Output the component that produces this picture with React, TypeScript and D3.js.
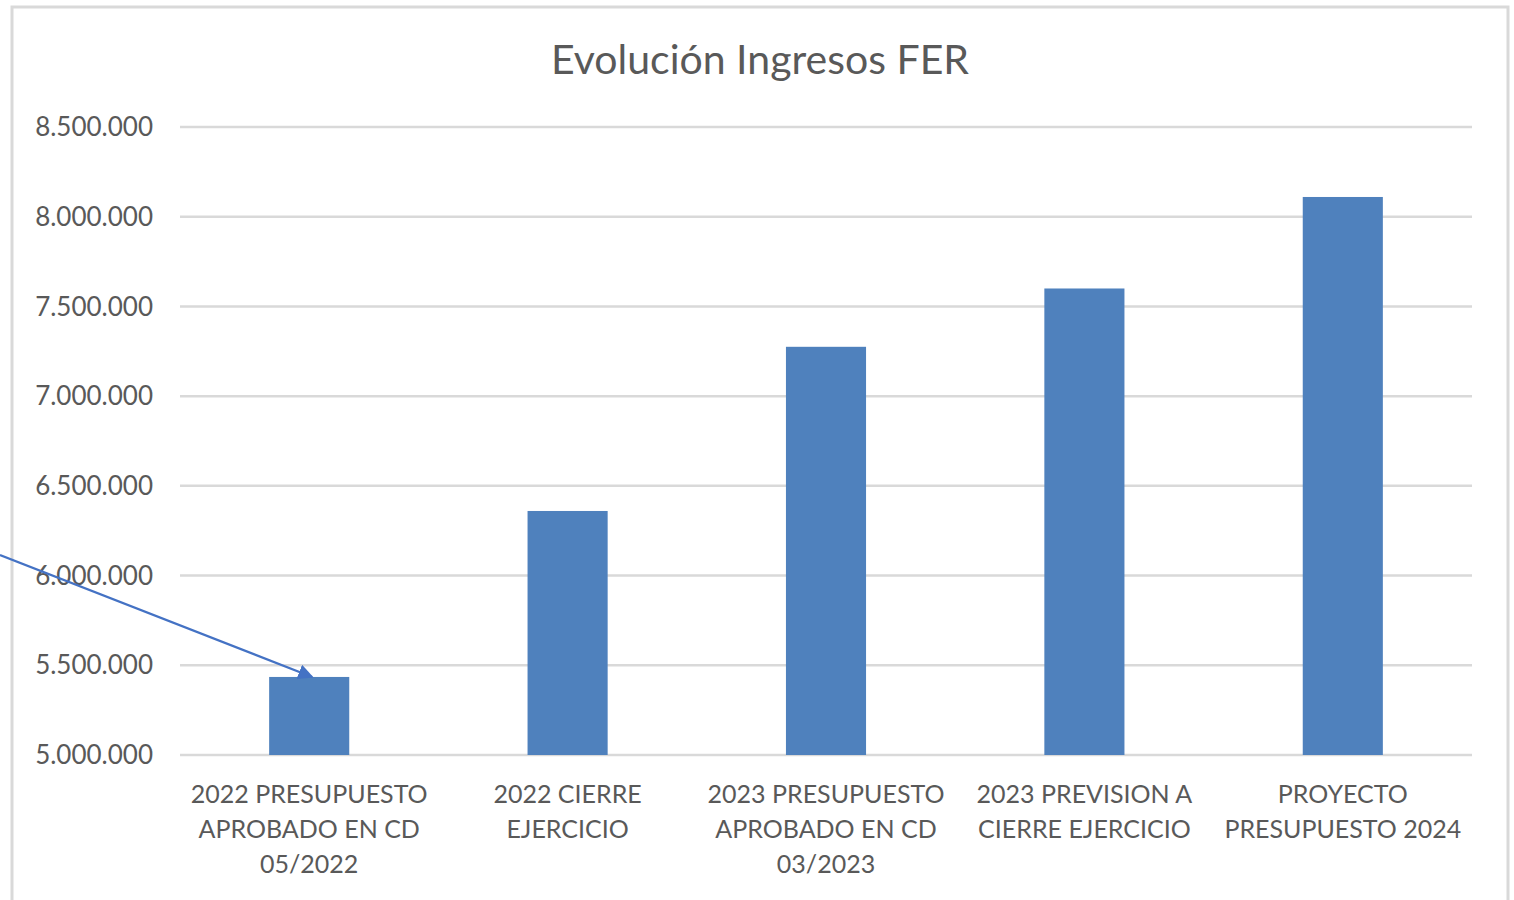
import * as d3 from 'd3'

const categories = [
  ['2022 PRESUPUESTO', 'APROBADO EN CD', '05/2022'],
  ['2022 CIERRE', 'EJERCICIO'],
  ['2023 PRESUPUESTO', 'APROBADO EN CD', '03/2023'],
  ['2023 PREVISION A', 'CIERRE EJERCICIO'],
  ['PROYECTO', 'PRESUPUESTO 2024'],
]
const ingresos = [5435000, 6360000, 7275000, 7600000, 8110000]
const yTicks = [5000000, 5500000, 6000000, 6500000, 7000000, 7500000, 8000000, 8500000]

const width = 1514
const height = 900
const left = 180
const right = 1472
const top = 127
const bottom = 755
const font = 'Lato, "Open Sans", sans-serif'
const textColor = '#595959'
const fmt = (v: number) => d3.format(',')(v).replace(/,/g, '.')

export default function App() {
  const idx = categories.map((_, i) => i)
  const x = d3.scaleBand<number>().domain(idx).range([left, right]).paddingInner(0.69).paddingOuter(0.345)
  const y = d3.scaleLinear().domain([5000000, 8500000]).range([bottom, top])

  // flecha hacia la primera barra
  const tipX = x(0)! + x.bandwidth() / 2 + 3
  const tipY = y(ingresos[0])
  const startX = 0
  const startY = 555

  return (
    <svg width={width} height={height} style={{ position: 'absolute', left: 0, top: 0, background: '#fff' }}>
      <defs>
        <marker id="arrow" viewBox="0 0 10 10" refX="9" refY="5" markerWidth="7" markerHeight="7" orient="auto">
          <path d="M0,0 L10,5 L0,10 z" fill="#4472C4" />
        </marker>
      </defs>
      <path d="M12,900 V7 H1508 V900" fill="none" stroke="#d9d9d9" strokeWidth={3} />
      <text x={760} y={74} textAnchor="middle" fontFamily={font} fontSize={41} fill={textColor}>
        Evolución Ingresos FER
      </text>
      {yTicks.map((t) => (
        <g key={t}>
          <line x1={left} x2={right} y1={y(t)} y2={y(t)} stroke="#d9d9d9" strokeWidth={2.5} />
          <text x={153} y={y(t)} dy="0.35em" textAnchor="end" fontFamily={font} fontSize={26} fill={textColor}>
            {fmt(t)}
          </text>
        </g>
      ))}
      {ingresos.map((v, i) => (
        <rect key={i} x={x(i)} y={y(v)} width={x.bandwidth()} height={y(5000000) - y(v)} fill="#4F81BD" />
      ))}
      {categories.map((lines, i) => (
        <text key={i} textAnchor="middle" fontFamily={font} fontSize={25} fill={textColor}>
          {lines.map((l, j) => (
            <tspan key={j} x={x(i)! + x.bandwidth() / 2} y={803 + j * 35}>
              {l}
            </tspan>
          ))}
        </text>
      ))}
      <line x1={startX} y1={startY} x2={tipX} y2={tipY} stroke="#4472C4" strokeWidth={2.2} markerEnd="url(#arrow)" />
    </svg>
  )
}
